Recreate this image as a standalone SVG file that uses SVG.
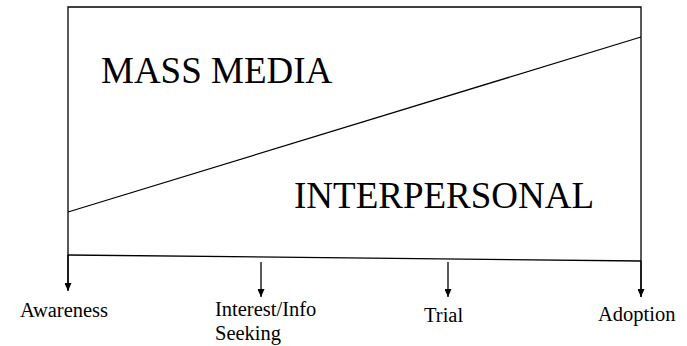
<svg xmlns="http://www.w3.org/2000/svg" width="687" height="346" viewBox="0 0 687 346">
<defs>
<style>
.ln{stroke:#000;stroke-width:1.3;fill:none}
.big{font-family:"Liberation Serif","Times New Roman",serif;font-size:37px;fill:#000}
.sm{font-family:"Liberation Serif","Times New Roman",serif;font-size:20.5px;fill:#000}
</style>
<marker id="ah" markerWidth="8" markerHeight="7" refX="8" refY="3.5" orient="auto" markerUnits="userSpaceOnUse" viewBox="0 0 8 7">
<path d="M0,0 L8,3.5 L0,7 Z" fill="#000"/>
</marker>
</defs>
<rect width="687" height="346" fill="#fff"/>
<g id="connectors">
<path class="ln" d="M68,290 L68,7 L641,7 L641,297"/>
<line class="ln" x1="68" y1="212" x2="641" y2="37"/>
<line class="ln" x1="68" y1="255" x2="641" y2="261"/>
<line class="ln" x1="68" y1="255" x2="68" y2="291" marker-end="url(#ah)"/>
<line class="ln" x1="261" y1="262" x2="261" y2="297" marker-end="url(#ah)"/>
<line class="ln" x1="448" y1="262" x2="448" y2="297" marker-end="url(#ah)"/>
<line class="ln" x1="641" y1="261" x2="641" y2="297" marker-end="url(#ah)"/>
</g>
<g id="mass-media"><text class="big" x="101" y="83">MASS MEDIA</text></g>
<g id="interpersonal"><text class="big" x="294" y="208">INTERPERSONAL</text></g>
<g id="awareness"><text class="sm" x="20" y="317">Awareness</text></g>
<g id="interest"><text class="sm" x="215" y="316">Interest/Info</text><text class="sm" x="215" y="340">Seeking</text></g>
<g id="trial"><text class="sm" x="424" y="322">Trial</text></g>
<g id="adoption"><text class="sm" x="598" y="321">Adoption</text></g>
</svg>
